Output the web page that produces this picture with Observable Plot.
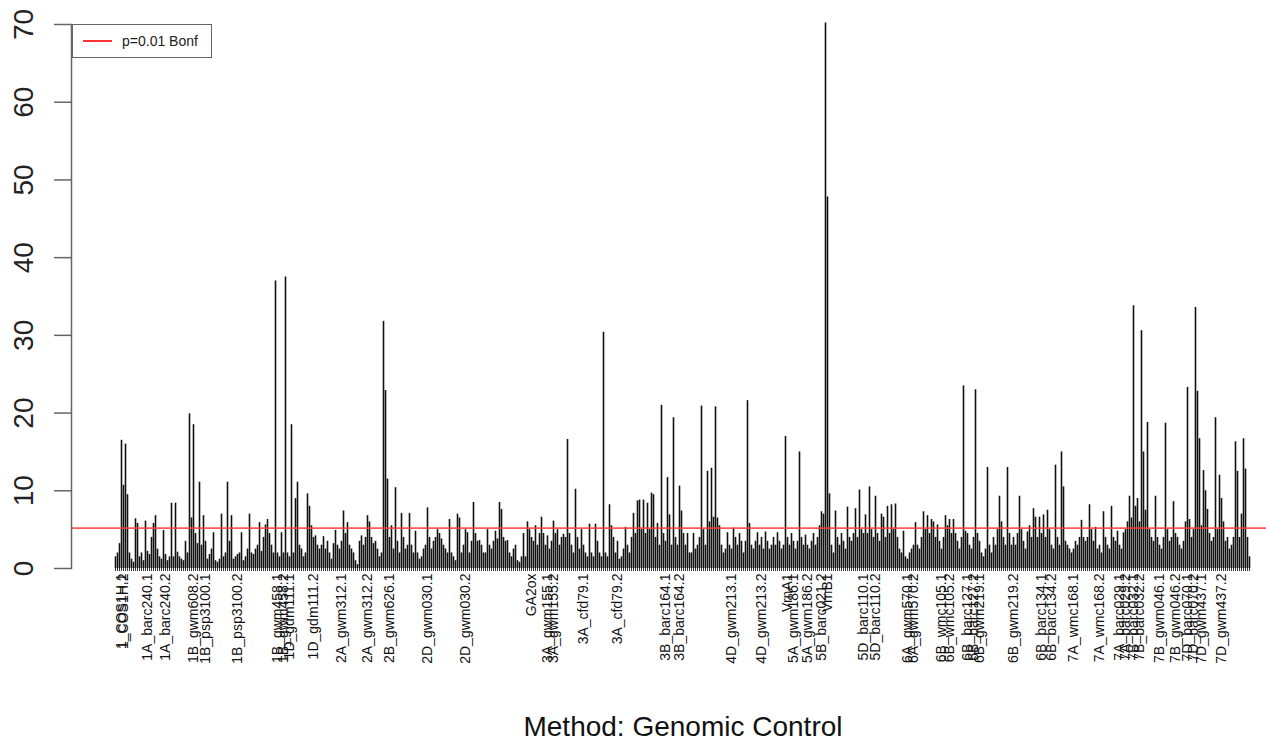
<!DOCTYPE html>
<html>
<head>
<meta charset="utf-8">
<script src="https://cdn.jsdelivr.net/npm/d3@7"></script>
<script src="https://cdn.jsdelivr.net/npm/@observablehq/plot@0.6"></script>
<style>
  html, body { margin: 0; padding: 0; background: #fff; }
  #wrap { position: relative; width: 1266px; height: 742px; font-family: "Liberation Sans", Arial, sans-serif; }
  #legend { position: absolute; left: 72px; top: 24px; width: 140px; height: 34px; border: 1.5px solid #666; background: #fff; box-sizing: border-box; }
  #legend .ln { position: absolute; left: 10px; top: 15px; width: 29px; height: 0; border-top: 2px solid #f33; }
  #legend .tx { position: absolute; left: 49px; top: 8px; font-size: 14px; color: #222; white-space: nowrap; }
  #title { width: 1266px; box-sizing: border-box; padding-left: 100px; text-align: center; font-size: 28px; line-height: 30px; height: 30px; color: #111; }
</style>
</head>
<body>
<div id="wrap">
  <div id="chart"></div>
  <div id="title"></div>
  <div id="legend"><span class="ln"></span><span class="tx"></span></div>
</div>
<script>
// -log10(p) per marker, in map order, split into segments
const seg1 = [1.5, 2.0, 3.2, 16.5, 10.7, 16.0, 9.5, 2.0, 1.2, 0.8,
  6.4, 5.8, 1.5, 2.0, 1.0, 6.1, 2.2, 1.8, 4.0, 5.8,
  6.8, 2.5, 1.5, 1.2, 4.9, 1.8, 1.0, 1.5, 8.4, 1.5,
  8.4, 2.1, 1.5, 1.2, 1.0, 3.5, 2.0, 19.9, 6.5, 18.5,
  4.5, 3.2, 11.1, 3.0, 6.8, 3.5, 1.2, 1.8, 2.5, 4.6,
  1.0, 0.8, 1.2, 7.0, 1.5, 2.0, 11.1, 3.5, 6.8, 1.2,
  1.5, 1.8, 2.0, 4.6, 1.0, 1.5, 2.5, 7.0, 2.0, 1.8,
  2.5, 3.0, 5.9, 2.2, 4.0, 5.6, 6.3, 4.5, 3.0, 2.0,
  37.0, 2.0, 1.5, 4.6, 2.0, 37.5, 2.0, 1.5, 18.5, 2.0,
  9.0, 11.1, 3.0, 2.5, 1.5, 2.0, 9.6, 8.0, 5.5, 4.0,
  4.2, 3.0, 2.5, 3.0, 4.1, 2.5, 3.5, 2.0, 1.2, 3.2];
const seg2 = [4.9, 3.0, 2.5, 3.5, 7.4, 4.5, 5.9, 3.0, 2.5, 2.0,
  1.0, 0.5, 3.5, 4.2, 3.0, 4.0, 6.8, 6.0, 4.0, 3.2,
  3.5, 2.5, 1.5, 2.0, 31.8, 22.9, 11.5, 4.0, 5.5, 2.5,
  10.4, 3.5, 2.0, 7.1, 4.0, 2.5, 3.0, 7.1, 3.0, 2.0,
  4.8, 2.0, 1.2, 1.5, 2.5, 3.0, 7.8, 4.0, 2.5, 3.5,
  4.0, 5.0, 4.5, 3.8, 3.0, 2.5, 2.0, 6.3, 2.0, 1.5,
  1.0, 7.0, 6.5, 2.0, 3.0, 5.0, 4.6, 2.0, 3.5, 8.5,
  4.5, 3.5, 3.6, 3.0, 2.0, 2.0, 5.0, 3.0, 2.5, 3.5,
  4.8, 3.8, 8.5, 7.6, 4.0, 3.5, 3.6, 2.0, 1.5, 2.5];
const seg3 = [3.0, 1.0, 0.8, 1.5, 4.5, 1.5, 6.0, 5.0, 4.0, 3.5,
  5.5, 3.0, 4.5, 6.6, 4.5, 3.0, 4.2, 2.5, 3.5, 6.1,
  4.5, 5.0, 3.0, 4.0, 4.4, 4.0, 16.6, 4.5, 3.0, 2.0,
  10.2, 4.0, 2.5, 5.0, 3.0, 2.0, 1.5, 5.7, 2.0, 1.5,
  5.7, 3.5, 2.0, 1.5, 30.4, 2.0, 1.5, 8.2, 5.5, 4.0,
  2.0, 3.5, 1.2, 1.5, 2.5, 5.3, 3.0, 2.0, 4.0, 7.1,
  4.5, 8.7, 8.8, 5.0, 8.8, 4.5, 8.4, 5.0, 9.7, 9.5,
  4.0, 5.8, 3.0, 21.0, 4.5, 3.5, 11.7, 6.9, 3.0, 19.4,
  4.0, 3.0, 10.6, 7.4, 4.5, 3.0, 4.5, 2.0, 2.0, 4.5,
  2.5, 3.0, 4.0, 20.9, 5.0, 3.0, 12.5, 6.0, 12.9, 6.6];
const seg4 = [20.8, 6.5, 5.5, 3.0, 2.0, 2.5, 4.6, 3.0, 2.5, 5.2,
  4.0, 3.0, 4.5, 3.5, 2.0, 3.5, 21.6, 5.8, 3.0, 2.5,
  3.5, 4.6, 3.0, 4.0, 2.5, 4.7, 3.5, 2.5, 3.0, 4.0,
  3.0, 4.6, 3.5, 2.5, 3.0, 17.0, 4.0, 3.0, 4.5, 3.5,
  2.5, 3.5, 15.0, 4.0, 3.0, 4.3, 3.0, 2.5, 3.5, 4.5];
const seg5 = [3.0, 4.0, 5.5, 7.3, 7.0, 70.2, 47.8, 9.6, 3.0, 2.0,
  7.4, 4.0, 3.0, 4.5, 3.5, 2.5, 7.9, 4.0, 3.5, 4.5,
  7.7, 4.0, 10.1, 5.0, 4.5, 6.9, 4.5, 10.5, 5.0, 4.0,
  9.3, 4.5, 3.5, 7.0, 6.6, 4.0, 8.0, 4.5, 8.2, 5.0,
  8.3, 4.0, 2.5, 2.0, 4.8, 1.5, 1.2, 2.0, 2.5, 3.0];
const seg6 = [5.9, 3.0, 2.5, 4.0, 7.3, 5.0, 6.8, 4.5, 6.3, 6.0,
  4.0, 5.6, 3.5, 2.5, 4.0, 6.8, 5.5, 6.3, 4.5, 6.3,
  4.5, 3.5, 2.5, 4.0, 23.5, 4.8, 4.5, 3.0, 2.5, 4.0,
  23.0, 4.5, 3.5, 2.0, 1.5, 2.5, 13.0, 3.0, 2.0, 4.0,
  3.0, 5.0, 9.3, 6.0, 4.0, 3.0, 13.0, 4.5, 3.0, 4.0,
  3.0, 4.5, 9.3, 5.0, 3.5, 2.5, 4.7, 5.5, 4.0, 7.7,
  6.6, 4.0, 6.6, 4.5, 6.9, 4.0, 7.5, 5.0, 3.0, 2.5,
  13.3, 4.0, 3.0, 15.0, 10.5, 3.5, 3.0, 2.5, 2.0, 2.5];
const seg7 = [3.5, 3.0, 4.0, 6.2, 4.0, 3.5, 4.0, 8.2, 5.0, 3.5,
  5.3, 2.5, 3.0, 2.0, 7.3, 4.0, 3.0, 2.5, 8.0, 4.0,
  3.5, 4.8, 3.0, 2.5, 4.6, 5.0, 6.0, 9.3, 6.5, 33.8,
  8.0, 9.0, 6.0, 30.6, 15.0, 7.5, 18.8, 5.0, 4.0, 3.5,
  9.3, 4.0, 3.0, 2.5, 4.0, 18.7, 5.0, 3.5, 4.0, 8.6,
  4.5, 4.0, 3.0, 2.5, 3.5, 6.0, 23.3, 6.3, 4.0, 5.0,
  33.6, 22.8, 16.7, 5.5, 12.6, 10.0, 7.6, 4.5, 3.5, 4.0,
  19.4, 5.0, 12.0, 9.0, 6.0, 3.5, 4.0, 2.5, 3.0, 4.0,
  16.3, 12.5, 4.0, 7.0, 16.7, 12.8, 4.0, 1.5];

// labelled markers (name, marker index)
const markerNames = ["1_COS1H.1", "1_COS1H.2", "1A_barc240.1", "1A_barc240.2", "1B_gwm608.2", "1B_psp3100.1",
  "1B_psp3100.2", "1B_gwm458.1", "1B_gwm458.2", "1D_gdm111.1", "1D_gdm111.2", "2A_gwm312.1", "2A_gwm312.2",
  "2B_gwm626.1", "2D_gwm030.1", "2D_gwm030.2", "GA2ox", "3A_gwm155.1", "3A_gwm155.2", "3A_cfd79.1", "3A_cfd79.2",
  "3B_barc164.1", "3B_barc164.2", "4D_gwm213.1", "4D_gwm213.2", "VrnA1", "5A_gwm186.1", "5A_gwm186.2",
  "5B_barc021.2", "VrnB1", "5D_barc110.1", "5D_barc110.2", "6A_gwm570.1", "6A_gwm570.2", "6B_wmc105.1",
  "6B_wmc105.2", "6B_barc127.1", "6B_barc127.2", "6B_gwm219.1", "6B_gwm219.2", "6B_barc134.1", "6B_barc134.2",
  "7A_wmc168.1", "7A_wmc168.2", "7A_barc029.1", "7A_barc029.2", "7B_barc032.1", "7B_barc032.2",
  "7B_gwm046.1", "7B_gwm046.2", "7D_barc070.1", "7D_barc070.2", "7D_gwm437.1", "7D_gwm437.2"];
const markerIndex = [3, 4, 16, 25, 39, 45, 61, 81, 84, 87, 99, 113, 126, 137, 156, 175, 208, 216, 219, 234, 251,
  275, 282, 308, 323, 336, 339, 346, 353, 356, 374, 380, 396, 399, 413, 417, 426, 429, 432, 449, 463, 468,
  479, 492, 502, 505, 509, 512, 522, 530, 536, 539, 543, 553];

const yTicks = [0, 10, 20, 30, 40, 50, 60, 70];
const threshold = 5.2;
const legendLabel = "p=0.01 Bonf";
const titleText = "Method: Genomic Control";

const lod = [...seg1, ...seg2, ...seg3, ...seg4, ...seg5, ...seg6, ...seg7];
const data = lod.map((v, i) => ({i, v}));
const labelMap = new Map(markerIndex.map((k, j) => [k, markerNames[j]]));
const allIdx = d3.range(lod.length);

const H = 712;
const chart = Plot.plot({
  width: 1266,
  height: H,
  marginLeft: 71,
  marginRight: 0,
  marginTop: 24,
  marginBottom: H - 568,
  style: {fontFamily: "'Liberation Sans', Arial, sans-serif", fontSize: "14px", color: "#111", background: "#fff"},
  x: {type: "linear", domain: [0, lod.length - 1], range: [115, 1249]},
  y: {domain: [0, 70]},
  marks: [
    Plot.ruleX(data, {x: "i", y: "v", stroke: "#111", strokeWidth: 1.6}),
    Plot.ruleY([threshold], {stroke: "#ff3b3b", strokeWidth: 1.6, strokeOpacity: 0.85}),
    Plot.axisX({ticks: allIdx, tickSize: 3, tickPadding: 2, tickRotate: -90, textAnchor: "end",
      tickFormat: d => labelMap.get(d) ?? "", stroke: "#333", fill: "#111", label: null, fontSize: 14}),
    Plot.axisY({ticks: yTicks, tickSize: 17, tickFormat: () => "", stroke: "#666", strokeWidth: 1.5, label: null}),
    Plot.frame({anchor: "left", stroke: "#666", strokeWidth: 1.5}),
    Plot.text(yTicks, {y: d => d, text: d => String(d), frameAnchor: "left", textAnchor: "middle", lineAnchor: "middle",
      dx: -47, rotate: -90, fontSize: 28, fill: "#222"})
  ]
});
document.getElementById("chart").appendChild(chart);
document.getElementById("title").textContent = titleText;
document.querySelector("#legend .tx").textContent = legendLabel;
</script>
</body>
</html>
